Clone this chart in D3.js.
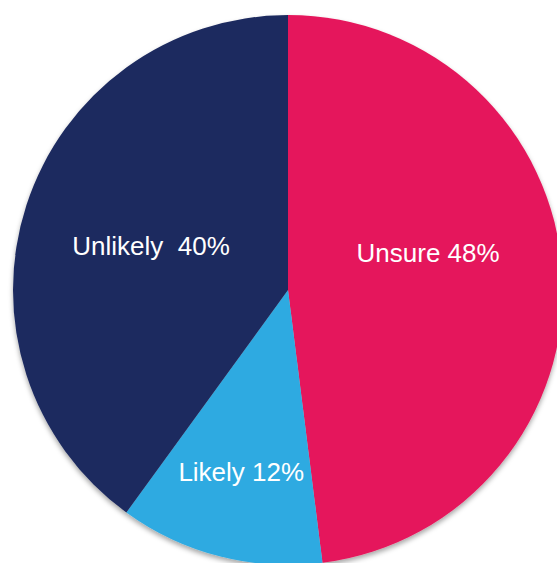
<!DOCTYPE html>
<html>
<head>
<meta charset="utf-8">
<script src="https://cdn.jsdelivr.net/npm/d3@7"></script>
<style>
  html, body { margin: 0; padding: 0; background: #ffffff; }
  svg { display: block; }
  text { font-family: "Liberation Sans", Arial, sans-serif; white-space: pre; }
</style>
</head>
<body>
<svg id="chart" width="557" height="563"></svg>
<script>
// Survey answer shares (percent)
const categories = ["Unsure", "Likely", "Unlikely"];
const shares = [48, 12, 40];
const labels = ["Unsure 48%", "Likely 12%", "Unlikely  40%"];
const colors = ["#e5185b", "#2eaae1", "#1d2a5f"];

// Label placement: radius from centre and angular nudge (degrees) per slice
const labelRadius = [145, 188, 144];
const labelNudge = [-11.4, 0, 0];

const width = 557, height = 563;
const cx = 288, cy = 290, radius = 275;

const svg = d3.select("#chart");

const defs = svg.append("defs");
const shadow = defs.append("filter")
  .attr("id", "pieShadow")
  .attr("x", "-10%").attr("y", "-10%")
  .attr("width", "120%").attr("height", "120%");
shadow.append("feDropShadow")
  .attr("dx", 0).attr("dy", 3)
  .attr("stdDeviation", 2.5)
  .attr("flood-color", "#000")
  .attr("flood-opacity", 0.35);

const pie = d3.pie().sort(null).value(d => d.value);
const data = categories.map((c, i) => ({ name: c, value: shares[i], label: labels[i], color: colors[i], i }));
const arcs = pie(data);

const arc = d3.arc().innerRadius(0).outerRadius(radius);

const g = svg.append("g").attr("transform", `translate(${cx},${cy})`);

g.append("g")
  .attr("filter", "url(#pieShadow)")
  .selectAll("path")
  .data(arcs)
  .join("path")
  .attr("d", arc)
  .attr("fill", d => d.data.color);

g.selectAll("text.slice-label")
  .data(arcs)
  .join("text")
  .attr("class", "slice-label")
  .attr("transform", d => {
    const i = d.data.i;
    const mid = (d.startAngle + d.endAngle) / 2 + labelNudge[i] * Math.PI / 180;
    const r = labelRadius[i];
    return `translate(${r * Math.sin(mid)},${-r * Math.cos(mid)})`;
  })
  .attr("text-anchor", "middle")
  .attr("dy", "0.35em")
  .attr("fill", "#ffffff")
  .attr("font-size", 26)
  .text(d => d.data.label);
</script>
</body>
</html>
